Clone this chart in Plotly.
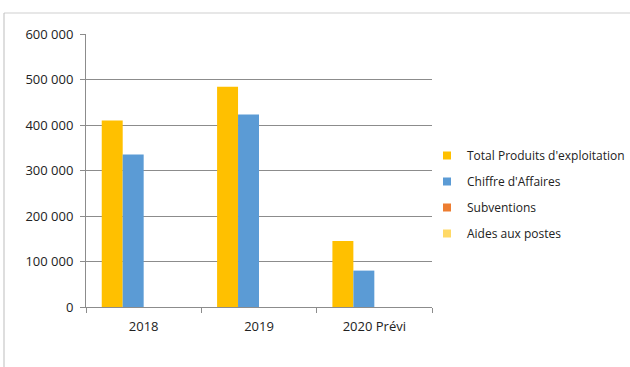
import plotly.graph_objects as go

# Données par exercice
categories = ["2018", "2019", "2020 Prévi"]
total_produits = [410000, 484000, 145000]
chiffre_affaires = [335000, 423000, 80000]
subventions = [0, 0, 0]
aides_postes = [0, 0, 0]

y_ticks = [0, 100000, 200000, 300000, 400000, 500000, 600000]

series = [
    ("Total Produits d'exploitation", total_produits, "#FFC000"),
    ("Chiffre d'Affaires", chiffre_affaires, "#5B9BD5"),
    ("Subventions", subventions, "#ED7D31"),
    ("Aides aux postes", aides_postes, "#FFD966"),
]

fig = go.Figure()
for i, (name, vals, color) in enumerate(series):
    fig.add_trace(go.Bar(
        x=categories, y=vals, name=name,
        marker=dict(color=color, line=dict(width=0)),
        legendgroup=f"g{i}", showlegend=False,
    ))
    # petite pastille carrée pour la légende
    fig.add_trace(go.Scatter(
        x=[None], y=[None], mode="markers", name=name,
        marker=dict(symbol="square", size=8, color=color),
        legendgroup=f"g{i}", showlegend=True,
    ))

W, H = 630, 367
L, R, T, B = 86, 198, 34, 60
pw, ph = W - L - R, H - T - B

def px_x(x):
    return (x - L) / pw

def px_y(y):
    return (H - B - y) / ph

fig.update_layout(
    width=W, height=H,
    margin=dict(l=L, r=R, t=T, b=B, autoexpand=False),
    paper_bgcolor="white", plot_bgcolor="white",
    barmode="group", bargap=0.273, bargroupgap=0,
    separators=". ",
    font=dict(family="Open Sans, Liberation Sans, sans-serif", size=13, color="#222222"),
    showlegend=True,
    legend=dict(
        x=px_x(427), y=px_y(141), xanchor="left", yanchor="top",
        font=dict(size=12, color="#222222"),
        tracegroupgap=7, itemwidth=30,
        bgcolor="rgba(0,0,0,0)",
    ),
    xaxis=dict(
        showline=True, linecolor="#8c8c8c", linewidth=1,
        ticks="outside", tickson="boundaries", ticklen=5, tickcolor="#8c8c8c",
        showgrid=False, tickfont=dict(size=13), ticklabelstandoff=7,
    ),
    yaxis=dict(
        range=[0, 600000], tickvals=y_ticks, tickformat=",d",
        showline=True, linecolor="#8c8c8c", linewidth=1,
        ticks="outside", ticklen=5, tickcolor="#8c8c8c",
        showgrid=True, gridcolor="#8c8c8c", gridwidth=1,
        zeroline=False, tickfont=dict(size=13), ticklabelstandoff=4,
    ),
    shapes=[
        # cadre du graphique
        dict(type="line", xref="paper", yref="paper",
             x0=px_x(4), x1=px_x(640), y0=px_y(13), y1=px_y(13),
             line=dict(color="#cfcfcf", width=1)),
        dict(type="line", xref="paper", yref="paper",
             x0=px_x(4), x1=px_x(4), y0=px_y(13), y1=px_y(380),
             line=dict(color="#bdbdbd", width=1)),
    ],
)

fig.write_html("out.html")
